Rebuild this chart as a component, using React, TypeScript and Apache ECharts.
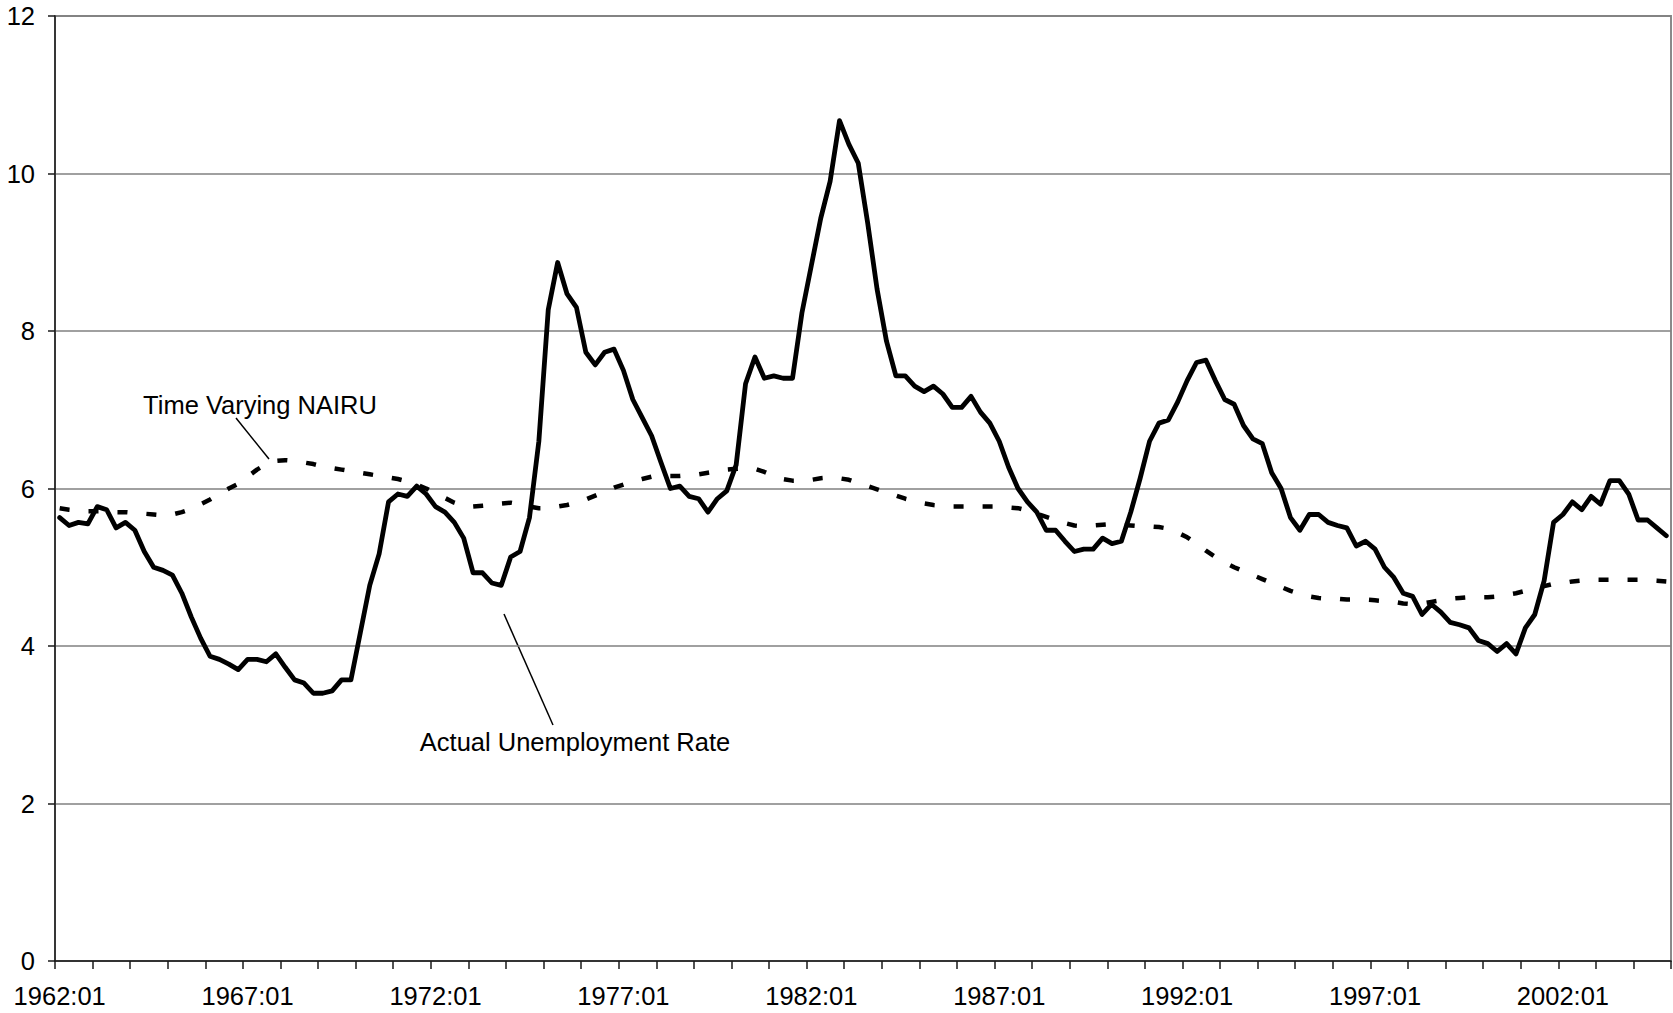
import React, { useEffect, useRef } from "react";
import * as echarts from "echarts";

const START_YEAR = 1962;
const END_YEAR = 2004;

const categories: string[] = [];
for (let y = START_YEAR; y <= END_YEAR; y++) {
  for (let q = 1; q <= 4; q++) categories.push(`${y}:0${q}`);
}

// Actual unemployment rate, quarterly 1962:01 - 2004:04
const actualRate = [
  5.63, 5.53, 5.57, 5.55,
  5.77, 5.73, 5.50, 5.57,
  5.47, 5.20, 5.00, 4.96,
  4.90, 4.67, 4.37, 4.10,
  3.87, 3.83, 3.77, 3.70,
  3.83, 3.83, 3.80, 3.90,
  3.73, 3.57, 3.53, 3.40,
  3.40, 3.43, 3.57, 3.57,
  4.17, 4.77, 5.17, 5.83,
  5.93, 5.90, 6.03, 5.93,
  5.77, 5.70, 5.57, 5.37,
  4.93, 4.93, 4.80, 4.77,
  5.13, 5.20, 5.63, 6.60,
  8.27, 8.87, 8.47, 8.30,
  7.73, 7.57, 7.73, 7.77,
  7.50, 7.13, 6.90, 6.67,
  6.33, 6.00, 6.03, 5.90,
  5.87, 5.70, 5.87, 5.97,
  6.30, 7.33, 7.67, 7.40,
  7.43, 7.40, 7.40, 8.23,
  8.83, 9.43, 9.90, 10.67,
  10.37, 10.13, 9.37, 8.53,
  7.87, 7.43, 7.43, 7.30,
  7.23, 7.30, 7.20, 7.03,
  7.03, 7.17, 6.97, 6.83,
  6.60, 6.27, 6.00, 5.83,
  5.70, 5.47, 5.47, 5.33,
  5.20, 5.23, 5.23, 5.37,
  5.30, 5.33, 5.70, 6.13,
  6.60, 6.83, 6.87, 7.10,
  7.37, 7.60, 7.63, 7.37,
  7.13, 7.07, 6.80, 6.63,
  6.57, 6.20, 6.00, 5.63,
  5.47, 5.67, 5.67, 5.57,
  5.53, 5.50, 5.27, 5.33,
  5.23, 5.00, 4.87, 4.67,
  4.63, 4.40, 4.53, 4.43,
  4.30, 4.27, 4.23, 4.07,
  4.03, 3.93, 4.03, 3.90,
  4.23, 4.40, 4.83, 5.57,
  5.67, 5.83, 5.73, 5.90,
  5.80, 6.10, 6.10, 5.93,
  5.60, 5.60, 5.50, 5.40,
];

// Time varying NAIRU, quarterly 1962:01 - 2004:04
const nairu = [
  5.75, 5.73, 5.72, 5.71,
  5.71, 5.71, 5.70, 5.70,
  5.69, 5.68, 5.67, 5.66,
  5.67, 5.70, 5.74, 5.80,
  5.86, 5.93, 6.00, 6.06,
  6.15, 6.24, 6.31, 6.35,
  6.36, 6.35, 6.33, 6.31,
  6.28, 6.26, 6.24, 6.22,
  6.20, 6.18, 6.16, 6.14,
  6.12, 6.09, 6.05, 6.00,
  5.94, 5.88, 5.82, 5.78,
  5.77, 5.78, 5.79, 5.81,
  5.82, 5.80, 5.77, 5.75,
  5.75, 5.77, 5.79, 5.82,
  5.86, 5.91, 5.96, 6.01,
  6.05, 6.09, 6.12, 6.15,
  6.16, 6.16, 6.16, 6.17,
  6.18, 6.20, 6.22, 6.24,
  6.25, 6.26, 6.25, 6.21,
  6.16, 6.12, 6.10, 6.10,
  6.11, 6.13, 6.14, 6.13,
  6.11, 6.07, 6.03, 5.99,
  5.95, 5.91, 5.87, 5.84,
  5.81, 5.79, 5.78, 5.77,
  5.77, 5.77, 5.77, 5.77,
  5.77, 5.76, 5.75, 5.72,
  5.68, 5.64, 5.60, 5.56,
  5.53, 5.52, 5.53, 5.54,
  5.55, 5.54, 5.53, 5.52,
  5.52, 5.51, 5.49, 5.44,
  5.38, 5.30, 5.21, 5.13,
  5.06, 5.00, 4.95, 4.90,
  4.85, 4.80, 4.75, 4.70,
  4.66, 4.63, 4.61, 4.60,
  4.60, 4.59, 4.59, 4.59,
  4.58, 4.57, 4.56, 4.54,
  4.53, 4.54, 4.56, 4.58,
  4.60, 4.61, 4.62, 4.62,
  4.62, 4.63, 4.65, 4.67,
  4.70, 4.73, 4.76, 4.79,
  4.80, 4.82, 4.83, 4.84,
  4.84, 4.84, 4.84, 4.84,
  4.84, 4.84, 4.83, 4.82,
];

const yTicks = [0, 2, 4, 6, 8, 10, 12];

const FONT = "'Liberation Sans', Arial, Helvetica, sans-serif";
const FS = 25.5;

export default function App() {
  const ref = useRef<HTMLDivElement>(null);
  useEffect(() => {
    if (!ref.current) return;
    const chart = echarts.init(ref.current, undefined, { renderer: "svg" });
    chart.setOption({
      animation: false,
      backgroundColor: "#ffffff",
      grid: {
        left: 55,
        right: 2,
        top: 16,
        bottom: 52,
        show: true,
        borderColor: "#8a8a8a",
        borderWidth: 2,
        containLabel: false,
      },
      xAxis: {
        type: "category",
        data: categories,
        boundaryGap: true,
        axisLine: { show: true, lineStyle: { color: "#1a1a1a", width: 1.5 } },
        axisTick: {
          show: true,
          interval: 3,
          length: 8,
          lineStyle: { color: "#1a1a1a", width: 1.5 },
        },
        axisLabel: {
          interval: 19,
          margin: 22,
          fontSize: FS,
          color: "#000",
          fontFamily: FONT,
          hideOverlap: false,
        },
        splitLine: { show: false },
      },
      yAxis: {
        type: "value",
        min: yTicks[0],
        max: yTicks[yTicks.length - 1],
        interval: 2,
        axisLine: { show: true, lineStyle: { color: "#1a1a1a", width: 1.5 } },
        axisTick: { show: true, length: 7, lineStyle: { color: "#1a1a1a", width: 1.5 } },
        axisLabel: {
          margin: 20,
          fontSize: FS,
          color: "#000",
          fontFamily: FONT,
        },
        splitLine: { show: true, lineStyle: { color: "#808080", width: 1.5 } },
      },
      series: [
        {
          name: "Time Varying NAIRU",
          type: "line",
          data: nairu,
          symbol: "none",
          smooth: false,
          lineStyle: { color: "#000", width: 4.5, type: [10, 19], cap: "butt" },
          z: 2,
        },
        {
          name: "Actual Unemployment Rate",
          type: "line",
          data: actualRate,
          symbol: "none",
          smooth: false,
          lineStyle: { color: "#000", width: 4.8, join: "round", cap: "round" },
          z: 3,
        },
      ],
      graphic: [
        {
          type: "text",
          x: 260,
          y: 405,
          style: {
            text: "Time Varying NAIRU",
            fontSize: FS,
            fontFamily: FONT,
            fill: "#000",
            textAlign: "center",
            textVerticalAlign: "middle",
          },
        },
        {
          type: "line",
          shape: { x1: 236, y1: 418, x2: 269, y2: 459 },
          style: { stroke: "#000", lineWidth: 1.5 },
        },
        {
          type: "text",
          x: 575,
          y: 742,
          style: {
            text: "Actual Unemployment Rate",
            fontSize: FS,
            fontFamily: FONT,
            fill: "#000",
            textAlign: "center",
            textVerticalAlign: "middle",
          },
        },
        {
          type: "line",
          shape: { x1: 504, y1: 614, x2: 553, y2: 725 },
          style: { stroke: "#000", lineWidth: 1.5 },
        },
      ],
    });
    return () => chart.dispose();
  }, []);
  return (
    <div
      ref={ref}
      style={{ position: "fixed", left: 0, top: 0, width: 1673, height: 1013, background: "#fff" }}
    />
  );
}
